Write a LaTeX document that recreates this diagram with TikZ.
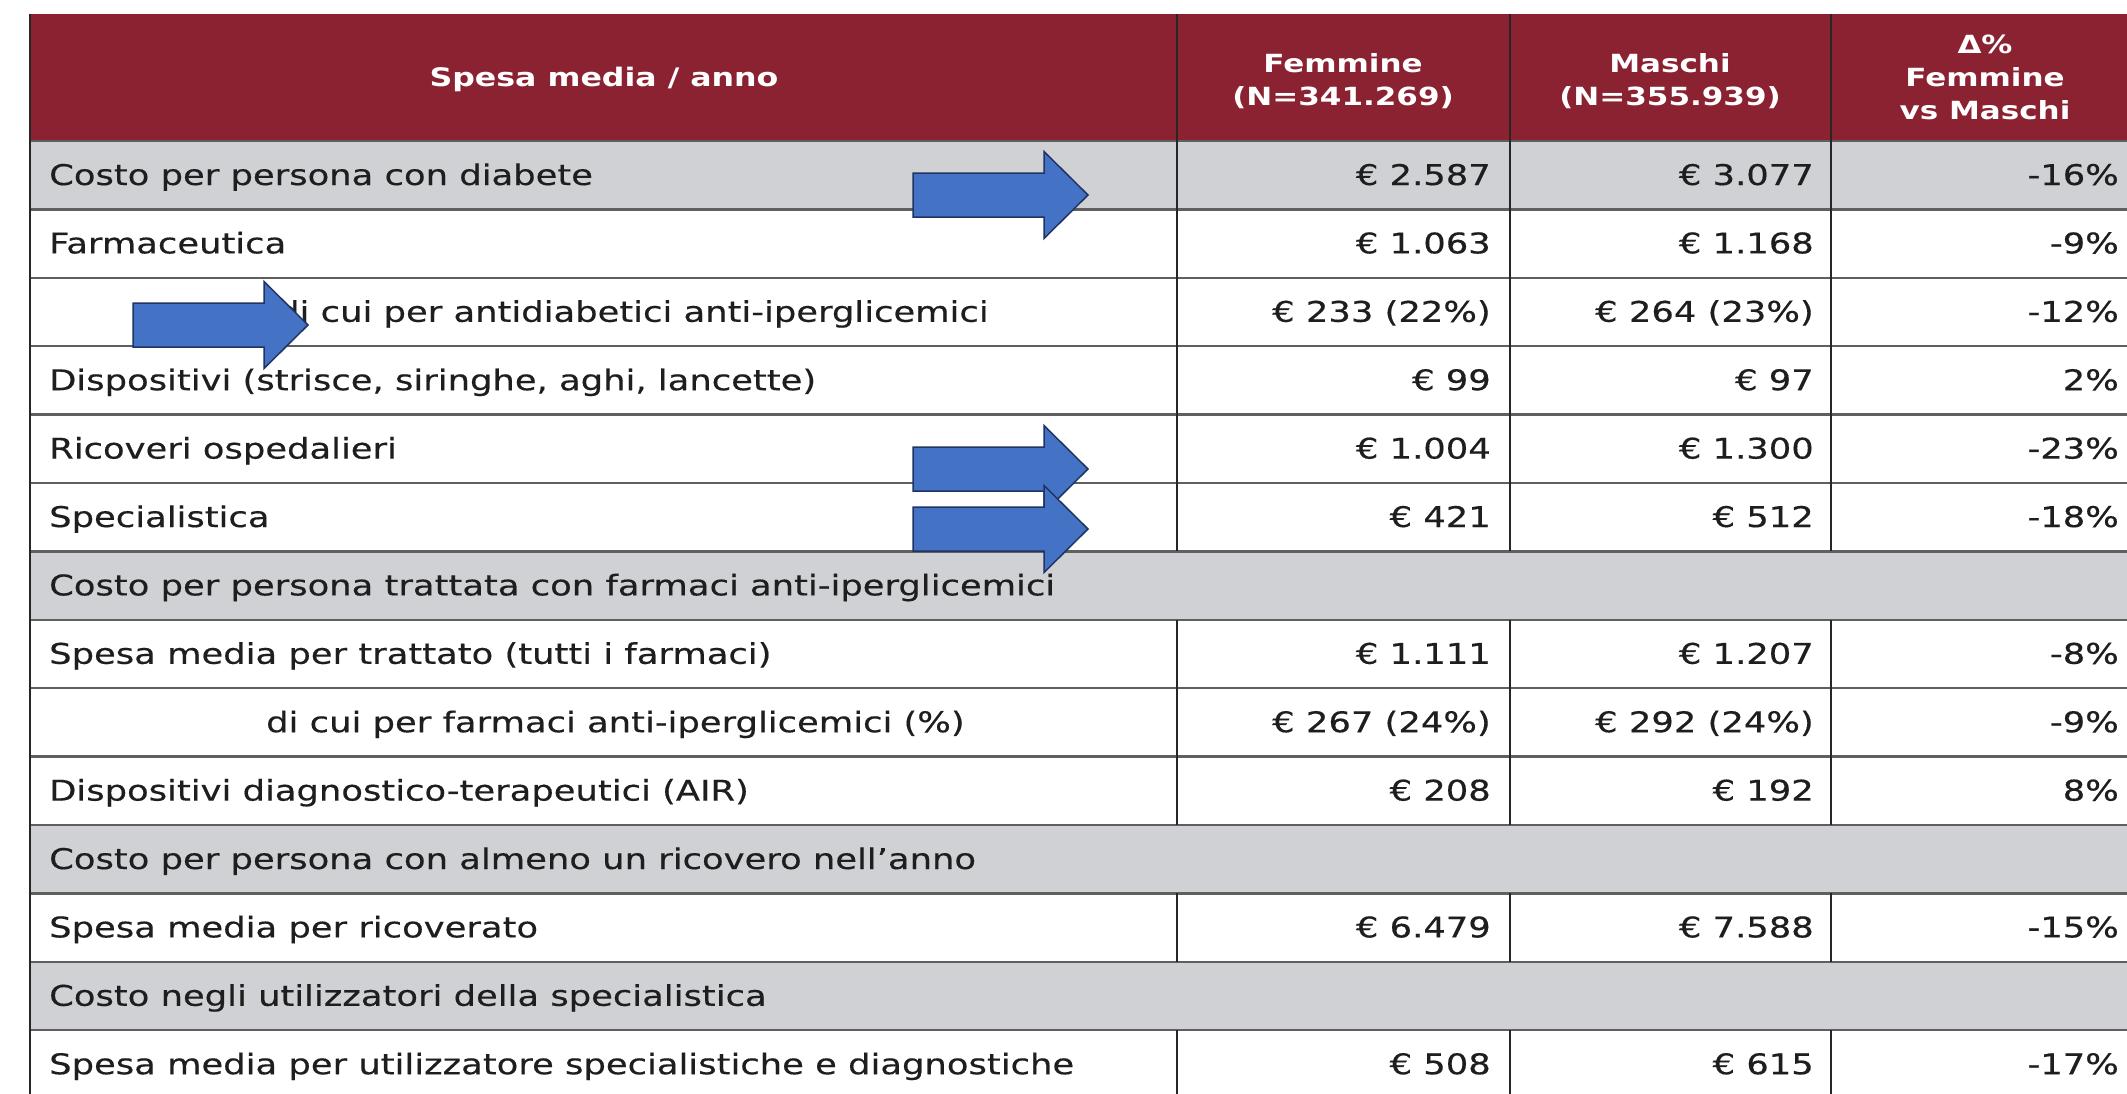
\documentclass[tikz,border=0pt]{standalone}
\usepackage{fontspec}
\setmainfont{DejaVu Sans}[FakeStretch=1.24]
\newfontfamily\bodyfont{DejaVu Sans}[FakeStretch=1.24,FakeBold=0.4]
\definecolor{hdr}{RGB}{138,34,50}
\definecolor{rowgray}{RGB}{208,209,212}
\definecolor{arrowfill}{RGB}{68,114,196}
\definecolor{arrowedge}{RGB}{32,52,100}
\definecolor{txt}{RGB}{30,30,30}
\definecolor{linegray}{RGB}{95,95,95}
\tikzset{
  lbl/.style={anchor=base west, inner sep=0pt, font=\bodyfont\fontsize{28.5}{32}\selectfont, text=txt},
  num/.style={anchor=base east, inner sep=0pt, font=\bodyfont\fontsize{28.5}{32}\selectfont, text=txt},
  hd/.style={align=center, inner sep=0pt, font=\bfseries\fontsize{25}{33}\selectfont, text=white},
  hline/.style={draw=linegray, line width=2.5pt},
  vline/.style={draw=black!85, line width=2pt},
  barrow/.pic={\draw[fill=arrowfill, draw=arrowedge, line width=1.5pt, line join=miter]
     (0,-22) -- (131,-22) -- (131,-43.5) -- (175,0) -- (131,43.5) -- (131,22) -- (0,22) -- cycle;}
}
\begin{document}
\begin{tikzpicture}[x=1pt,y=-1pt]
\useasboundingbox[fill=white] (0,0) rectangle (2127,1093);
% fills
\fill[hdr] (30,13.6) rectangle (2140,141);
\foreach \k in {1,7,11,13}{
  \fill[rowgray] (30,{141+68.4*(\k-1)}) rectangle (2140,{141+68.4*\k});
}
% horizontal lines
\foreach \k in {0,...,13}{
  \draw[hline] (30,{141+68.4*\k}) -- (2140,{141+68.4*\k});
}
% vertical lines
\foreach \x in {1177,1510,1831}{
  \draw[vline] (\x,13.6) -- (\x,{141+68.4*6});
  \draw[vline] (\x,{141+68.4*7}) -- (\x,{141+68.4*10});
  \draw[vline] (\x,{141+68.4*11}) -- (\x,{141+68.4*12});
  \draw[vline] (\x,{141+68.4*13}) -- (\x,1100);
}
\draw[vline] (30,13.6) -- (30,1100);
% header
\node[hd, font=\bfseries\fontsize{25.5}{33}\selectfont] (h0) at (604,79) {Spesa media / anno};
\node[hd] (h1) at (1343,81) {Femmine\\(N=341.269)};
\node[hd] (h2) at (1670,81) {Maschi\\(N=355.939)};
\node[hd] (h3) at (1985,77) {Δ\%\\Femmine\\vs Maschi};
% rows
\node[lbl] (r1) at (49,185) {Costo per persona con diabete};
\node[num] (r1f) at (1491,185) {€ 2.587};
\node[num] (r1m) at (1814,185) {€ 3.077};
\node[num] (r1d) at (2119,185) {-16\%};

\node[lbl] (r2) at (49,253.4) {Farmaceutica};
\node[num] (r2f) at (1491,253.4) {€ 1.063};
\node[num] (r2m) at (1814,253.4) {€ 1.168};
\node[num] (r2d) at (2119,253.4) {-9\%};

\node[lbl] (r3) at (277,321.8) {di cui per antidiabetici anti-iperglicemici};
\node[num] (r3f) at (1491,321.8) {€ 233 (22\%)};
\node[num] (r3m) at (1814,321.8) {€ 264 (23\%)};
\node[num] (r3d) at (2119,321.8) {-12\%};

\node[lbl] (r4) at (49,390.2) {Dispositivi (strisce, siringhe, aghi, lancette)};
\node[num] (r4f) at (1491,390.2) {€ 99};
\node[num] (r4m) at (1814,390.2) {€ 97};
\node[num] (r4d) at (2119,390.2) {2\%};

\node[lbl] (r5) at (49,458.6) {Ricoveri ospedalieri};
\node[num] (r5f) at (1491,458.6) {€ 1.004};
\node[num] (r5m) at (1814,458.6) {€ 1.300};
\node[num] (r5d) at (2119,458.6) {-23\%};

\node[lbl] (r6) at (49,527) {Specialistica};
\node[num] (r6f) at (1491,527) {€ 421};
\node[num] (r6m) at (1814,527) {€ 512};
\node[num] (r6d) at (2119,527) {-18\%};

\node[lbl] (r7) at (49,595.4) {Costo per persona trattata con farmaci anti-iperglicemici};

\node[lbl] (r8) at (49,663.8) {Spesa media per trattato (tutti i farmaci)};
\node[num] (r8f) at (1491,663.8) {€ 1.111};
\node[num] (r8m) at (1814,663.8) {€ 1.207};
\node[num] (r8d) at (2119,663.8) {-8\%};

\node[lbl] (r9) at (266,732.2) {di cui per farmaci anti-iperglicemici (\%)};
\node[num] (r9f) at (1491,732.2) {€ 267 (24\%)};
\node[num] (r9m) at (1814,732.2) {€ 292 (24\%)};
\node[num] (r9d) at (2119,732.2) {-9\%};

\node[lbl] (r10) at (49,800.6) {Dispositivi diagnostico-terapeutici (AIR)};
\node[num] (r10f) at (1491,800.6) {€ 208};
\node[num] (r10m) at (1814,800.6) {€ 192};
\node[num] (r10d) at (2119,800.6) {8\%};

\node[lbl] (r11) at (49,869) {Costo per persona con almeno un ricovero nell’anno};

\node[lbl] (r12) at (49,937.4) {Spesa media per ricoverato};
\node[num] (r12f) at (1491,937.4) {€ 6.479};
\node[num] (r12m) at (1814,937.4) {€ 7.588};
\node[num] (r12d) at (2119,937.4) {-15\%};

\node[lbl] (r13) at (49,1005.8) {Costo negli utilizzatori della specialistica};

\node[lbl] (r14) at (49,1074.2) {Spesa media per utilizzatore specialistiche e diagnostiche};
\node[num] (r14f) at (1491,1074.2) {€ 508};
\node[num] (r14m) at (1814,1074.2) {€ 615};
\node[num] (r14d) at (2119,1074.2) {-17\%};
% block arrows
\pic (a1) at (913,195) {barrow};
\pic (a2) at (133,325) {barrow};
\pic (a3) at (913,469) {barrow};
\pic (a4) at (913,529) {barrow};
\end{tikzpicture}
\end{document}
